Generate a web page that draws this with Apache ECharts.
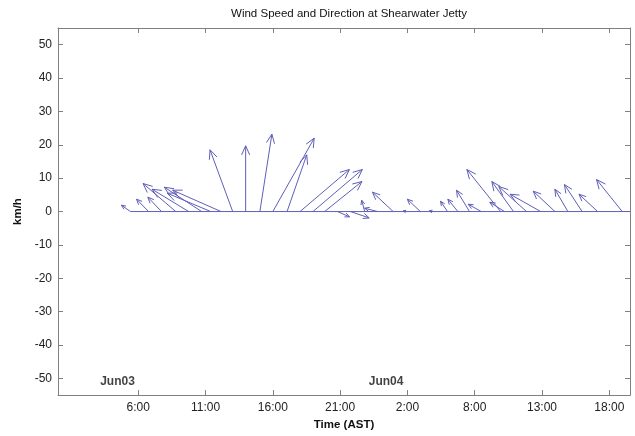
<!DOCTYPE html>
<html>
<head>
<meta charset="utf-8">
<script src="https://cdn.jsdelivr.net/npm/echarts@6/dist/echarts.min.js"></script>
<style>
html,body{margin:0;padding:0;background:#fff;}
#chart{width:635px;height:436px;}
</style>
</head>
<body>
<div id="chart"></div>
<script>
// ---- data ----
const chartTitle = 'Wind Speed and Direction at Shearwater Jetty';
const tickHours = [6, 11.2, 16.4, 21.6, 26.8, 32, 37.2, 42.4];
const tickLabels = ['6:00', '11:00', '16:00', '21:00', '2:00', '8:00', '13:00', '18:00'];
const yTicks = [-50, -40, -30, -20, -10, 0, 10, 20, 30, 40, 50];
const dayLabels = ['Jun03', 'Jun04'];
const dayHours = [4.4, 25.15];
// hours since Jun03 00:00 AST, wind vector components (km/h)
const hours = [5.4, 6.8, 7.8, 8.9, 9.9, 10.9, 11.6, 12.4, 13.3, 14.3, 15.4, 16.4, 17.5, 18.5, 19.5, 20.4,
  21.4, 22.4, 23.5, 24.5, 25.7, 26.7, 27.8, 28.8, 29.9, 30.7, 31.6, 32.5, 34.0, 34.3, 35.0, 36.0,
  37.1, 38.2, 39.2, 40.3, 41.5, 43.4];
const uKmh = [-2.7, -3.6, -4.1, -9.8, -11.0, -11.2, -13.0, -14.5, -6.8, 0.0, 3.6, 12.4, 5.9, 14.8, 14.8, 11.2,
  3.6, 5.6, -0.9, -3.9, -6.2, -0.9, -3.9, -1.2, -2.1, -3.0, -3.9, -3.9, -10.1, -4.4, -6.5, -8.3,
  -9.2, -6.5, -3.9, -5.3, -5.6, -7.7];
const vKmh = [1.9, 3.7, 4.3, 8.4, 6.7, 7.3, 5.5, 6.4, 18.5, 19.7, 23.2, 22.0, 17.0, 12.6, 12.6, 9.0,
  -1.6, -1.9, 3.4, 1.0, 5.8, 0.2, 3.7, 0.2, 3.1, 3.7, 6.4, 2.2, 12.6, 2.8, 9.0, 7.5,
  5.2, 6.1, 6.7, 8.1, 5.2, 9.6];
const xMin = -0.2, xMax = 44.0, yMin = -55, yMax = 55;

// ---- chart ----
const FONT = '"Liberation Sans", Arial, sans-serif';
const AX = '#808080';
const ARROW = '#5f5fb8';
const vectors = hours.map((h, i) => [h, uKmh[i], vKmh[i]]);

function nearestLabel(v) {
  let best = 0;
  for (let i = 1; i < tickHours.length; i++) {
    if (Math.abs(tickHours[i] - v) < Math.abs(tickHours[best] - v)) best = i;
  }
  return tickLabels[best];
}

function renderArrow(params, api) {
  const h = api.value(0), u = api.value(1), v = api.value(2);
  const p0 = api.coord([h, 0]);
  const k = api.size([0, 1])[1];
  const dx = u * k, dy = -v * k;
  const x1 = p0[0] + dx, y1 = p0[1] + dy;
  const len = Math.hypot(dx, dy);
  const children = [{
    type: 'polyline',
    shape: { points: [p0, [x1, y1]] },
    style: { stroke: ARROW, lineWidth: 1, fill: null }
  }];
  if (len > 1) {
    const hl = Math.min(10, 0.2 * len + 2.5);
    const ang = Math.atan2(dy, dx);
    const a = 0.42;
    const l = [x1 - hl * Math.cos(ang - a), y1 - hl * Math.sin(ang - a)];
    const r = [x1 - hl * Math.cos(ang + a), y1 - hl * Math.sin(ang + a)];
    children.push({
      type: 'polyline',
      shape: { points: [l, [x1, y1], r] },
      style: { stroke: ARROW, lineWidth: 1, fill: null }
    });
  }
  return { type: 'group', children };
}

const chart = echarts.init(document.getElementById('chart'), null, { renderer: 'canvas' });
const tickStyle = { inside: true, length: 5, lineStyle: { color: AX } };
chart.setOption({
  animation: false,
  backgroundColor: '#fff',
  textStyle: { fontFamily: FONT },
  title: {
    text: chartTitle,
    left: 344, top: 3, textAlign: 'center',
    textStyle: { fontSize: 11.5, fontWeight: 'normal', color: '#111', fontFamily: FONT }
  },
  grid: { left: 58, right: 5, top: 28, bottom: 38, containLabel: false },
  xAxis: [{
    type: 'value', min: xMin, max: xMax, position: 'bottom',
    name: 'Time (AST)', nameLocation: 'middle', nameGap: 22,
    nameTextStyle: { fontSize: 11.5, fontWeight: 'bold', color: '#111', fontFamily: FONT },
    axisLine: { show: true, onZero: false, lineStyle: { color: AX } },
    axisTick: Object.assign({ customValues: tickHours }, tickStyle),
    axisLabel: { customValues: tickHours, formatter: nearestLabel, fontSize: 12, color: '#222', margin: 7, fontFamily: FONT },
    splitLine: { show: false }
  }, {
    type: 'value', min: xMin, max: xMax, position: 'top',
    axisLine: { show: true, onZero: false, lineStyle: { color: AX } },
    axisTick: Object.assign({ customValues: tickHours }, tickStyle),
    axisLabel: { show: false },
    splitLine: { show: false }
  }],
  yAxis: [{
    type: 'value', min: yMin, max: yMax, position: 'left',
    name: 'km/h', nameLocation: 'middle', nameGap: 29, nameRotate: 90,
    nameTextStyle: { fontSize: 11.5, fontWeight: 'bold', color: '#111', fontFamily: FONT },
    axisLine: { show: true, onZero: false, lineStyle: { color: AX } },
    axisTick: Object.assign({ customValues: yTicks }, tickStyle),
    axisLabel: { customValues: yTicks, fontSize: 12, color: '#222', margin: 6, fontFamily: FONT },
    splitLine: { show: false }
  }, {
    type: 'value', min: yMin, max: yMax, position: 'right',
    axisLine: { show: true, onZero: false, lineStyle: { color: AX } },
    axisTick: Object.assign({ customValues: yTicks }, tickStyle),
    axisLabel: { show: false },
    splitLine: { show: false }
  }],
  series: [{
    type: 'line',
    data: [[hours[0], 0], [xMax, 0]],
    symbol: 'none',
    lineStyle: { color: ARROW, width: 1 },
    silent: true
  }, {
    type: 'custom',
    renderItem: renderArrow,
    data: vectors,
    clip: true,
    silent: true
  }, {
    type: 'scatter',
    data: dayHours.map((h, i) => ({ value: [h, -51], name: dayLabels[i] })),
    symbolSize: 0,
    silent: true,
    label: {
      show: true, position: 'inside', formatter: '{b}',
      fontSize: 12, fontWeight: 'bold', color: '#111', fontFamily: FONT
    }
  }]
});
</script>
</body>
</html>
